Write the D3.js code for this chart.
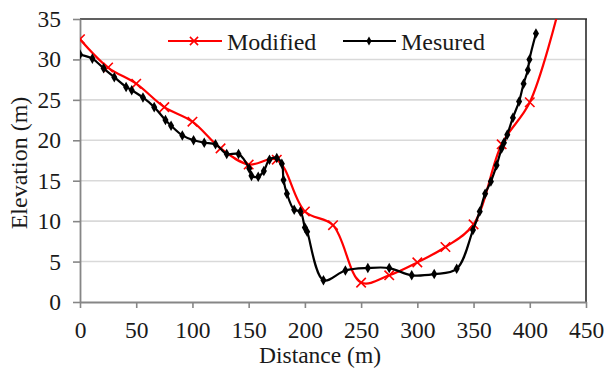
<!DOCTYPE html>
<html><head><meta charset="utf-8">
<script src="https://cdn.jsdelivr.net/npm/d3@7"></script>
<style>
html,body{margin:0;padding:0;background:#fff;}
svg text{font-family:"Times New Roman",Times,"Liberation Serif",Tinos,serif !important;fill:#1a1a1a;}
</style></head>
<body>
<svg id="chart" width="606" height="369"></svg>
<script>
// Data
const modifiedX = [0,25,50,75,100,125,150,175,200,225,250,275,300,325,350,375,400,425];
const modifiedY = [32.5,29.0,27.0,24.1,22.3,19.0,17.0,17.6,11.2,9.5,2.4,3.3,4.9,6.8,9.6,19.5,24.7,35.8];
const measuredX = [0,11,21,30.5,41,46,56,66,76,81,91,101,110.5,120.5,130.5,141,150.5,152.5,158.5,163.5,168.5,175,179.5,181,184,190.5,196,200,202,216.5,236,256,275,295,315,335,349.5,355.5,360.3,365.4,370.5,375,377,380,385,390.5,394.5,398.3,399.7,405.5];
const measuredY = [30.6,30.1,28.9,27.8,26.6,26.2,25.3,24.1,22.5,21.8,20.6,20.0,19.7,19.5,18.3,18.3,16.5,15.6,15.5,16.2,17.6,17.8,17.1,15.1,13.4,11.4,11.2,9.2,8.7,2.7,3.9,4.2,4.2,3.3,3.45,4.1,8.9,11.2,13.4,14.9,16.9,19.0,19.7,20.7,22.8,24.8,27.0,28.7,30.0,33.2];
const xTicks = [0,50,100,150,200,250,300,350,400,450];
const yTicks = [0,5,10,15,20,25,30,35];
const seriesNames = ["Modified","Mesured"];

const svg = d3.select("#chart");
const L=80, R=586, T=19, B=302;
const x = d3.scaleLinear().domain([0,450]).range([L,R]);
const y = d3.scaleLinear().domain([0,35]).range([B,T]);

// gridlines
svg.append("g").selectAll("line").data(yTicks.filter(v=>v>0&&v<35)).join("line")
  .attr("x1",L).attr("x2",R).attr("y1",d=>y(d)).attr("y2",d=>y(d))
  .attr("stroke","#d9d9d9").attr("stroke-width",1.6);

// top & right border
svg.append("line").attr("x1",L).attr("x2",R+1).attr("y1",T).attr("y2",T).attr("stroke","#2b2b2b").attr("stroke-width",1.6);
svg.append("line").attr("x1",R).attr("x2",R).attr("y1",T).attr("y2",B).attr("stroke","#2b2b2b").attr("stroke-width",1.6);

// axes
const xAxis = svg.append("g").attr("transform",`translate(0,${B})`)
  .call(d3.axisBottom(x).tickValues(xTicks).tickSize(6).tickSizeOuter(0).tickPadding(14));
const yAxis = svg.append("g").attr("transform",`translate(${L},0)`)
  .call(d3.axisLeft(y).tickValues(yTicks).tickSize(7).tickSizeOuter(0).tickPadding(12));
[xAxis,yAxis].forEach(a=>{
  a.attr("font-family",null).attr("font-size",null);
  a.select(".domain").attr("stroke","#868686").attr("stroke-width",1.8);
  a.selectAll(".tick line").attr("stroke","#868686").attr("stroke-width",1.6);
  a.selectAll("text").style("font-size","23.5px").attr("fill","#1a1a1a");
});
xAxis.selectAll("text").attr("dy","0.7em");

// axis titles
svg.append("text").attr("x",320).attr("y",363).attr("text-anchor","middle").style("font-size","23.5px").text("Distance (m)");
svg.append("text").attr("transform","translate(27,163) rotate(-90)").attr("text-anchor","middle").style("font-size","24px").text("Elevation (m)");

// clip
svg.append("clipPath").attr("id","clip").append("rect").attr("x",L).attr("y",T).attr("width",R-L).attr("height",B-T);
const plot = svg.append("g").attr("clip-path","url(#clip)");

const line = d3.line().x(d=>x(d[0])).y(d=>y(d[1])).curve(d3.curveCatmullRom.alpha(0.5));
const mod = modifiedX.map((v,i)=>[v,modifiedY[i]]);
const mea = measuredX.map((v,i)=>[v,measuredY[i]]);

const red="#ff0000";
plot.append("path").datum(mod).attr("d",line).attr("fill","none").attr("stroke",red).attr("stroke-width",2.2);
const cross = d3.symbol().type(d3.symbolX).size(60);
plot.append("g").selectAll("path").data(mod).join("path")
  .attr("transform",d=>`translate(${x(d[0])},${y(d[1])})`).attr("d",cross)
  .attr("fill","none").attr("stroke",red).attr("stroke-width",1.6);

plot.append("path").datum(mea).attr("d",line).attr("fill","none").attr("stroke","#000").attr("stroke-width",2.2);
const dia = d3.symbol().type(d3.symbolDiamond).size(32);
plot.append("g").selectAll("path").data(mea).join("path")
  .attr("transform",d=>`translate(${x(d[0])},${y(d[1])})`).attr("d",dia).attr("fill","#000");

// legend
const lg = svg.append("g");
lg.append("line").attr("x1",168).attr("x2",222).attr("y1",41).attr("y2",41).attr("stroke",red).attr("stroke-width",2.2);
lg.append("path").attr("transform","translate(194,41)").attr("d",d3.symbol().type(d3.symbolX).size(45)).attr("fill","none").attr("stroke",red).attr("stroke-width",1.6);
lg.append("text").attr("x",227).attr("y",50).style("font-size","24px").text(seriesNames[0]);
lg.append("line").attr("x1",343).attr("x2",396).attr("y1",41).attr("y2",41).attr("stroke","#000").attr("stroke-width",2.2);
lg.append("path").attr("transform","translate(369,41)").attr("d",d3.symbol().type(d3.symbolDiamond).size(24)).attr("fill","#000");
lg.append("text").attr("x",401).attr("y",50).style("font-size","24px").text(seriesNames[1]);
</script>
</body></html>
